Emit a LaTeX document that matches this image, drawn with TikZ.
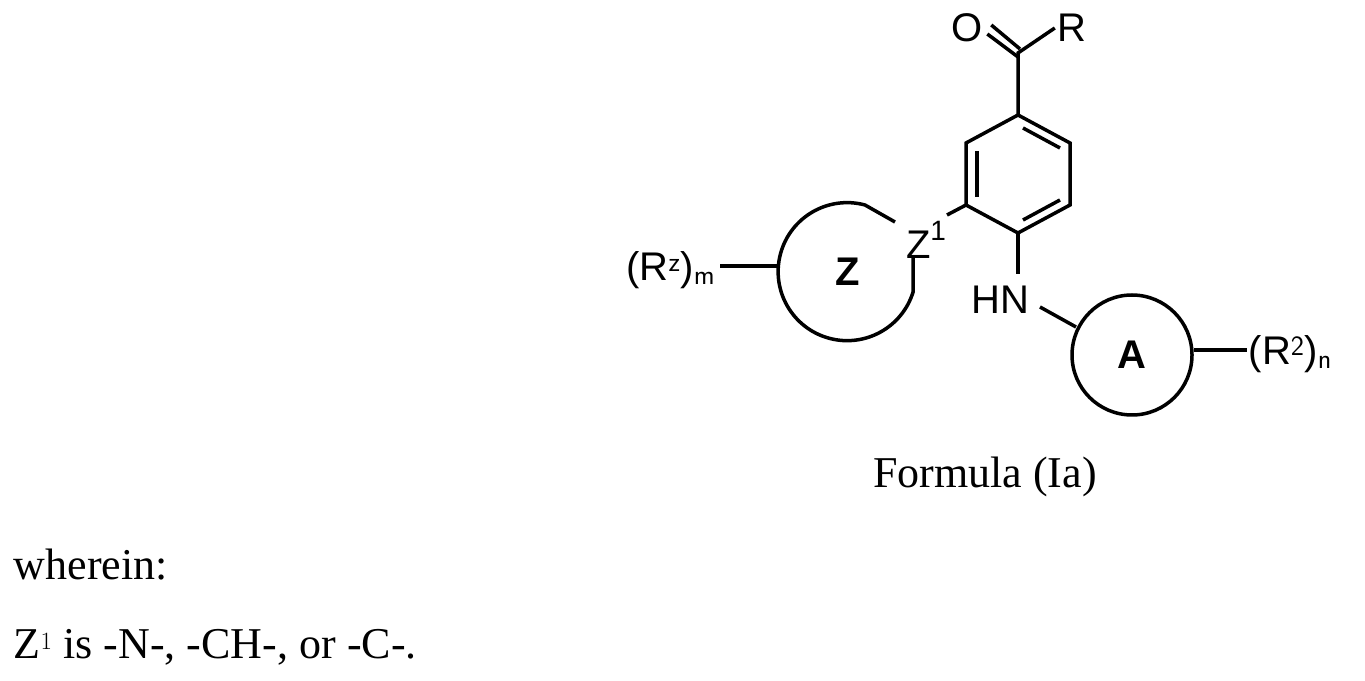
\documentclass[tikz,border=0pt]{standalone}
\usepackage{fontspec}
\setmainfont{Liberation Serif}
\newfontfamily\arial{Liberation Sans}
\begin{document}
\begin{tikzpicture}[x=1pt,y=1pt,line width=3.5pt,
  atom/.style={font=\arial\fontsize{40}{44}\selectfont,inner sep=1pt},
  txt/.style={font=\fontsize{44}{50}\selectfont,inner sep=0pt}]
\useasboundingbox (0,0) rectangle (1365,680);
\coordinate (C) at (1018,627);
\node[atom] (O) at (967,652) {O};
\node[atom] (R) at (1072,652) {R};
\coordinate (r1) at (1018,565);
\coordinate (r2) at (966,537);
\coordinate (r3) at (966,475);
\coordinate (r4) at (1018,447);
\coordinate (r5) at (1070,475);
\coordinate (r6) at (1070,537);
\draw (r1)--(r2)--(r3)--(r4)--(r5)--(r6)--cycle;
\draw (977,529)--(977,483);
\draw (1023,552)--(1060,532);
\draw (1023,460)--(1060,480);
\draw (r1)--(C)--(R.west);
\draw ([yshift=-4pt]C) -- ([xshift=2pt,yshift=-6pt]O.east);
\draw ([xshift=2pt,yshift=4pt]C) -- ([xshift=6pt,yshift=3pt]O.east);
\node[atom] (NH) at (1000,380) {HN};
\draw (r4)--(1018,406);
\draw (NH.east)++(0,-8) coordinate (nh1);
\node[circle,draw,minimum size=120pt,inner sep=0pt] (A) at (1132,325) {\arial\bfseries\fontsize{40}{44}\selectfont A};
\draw (1040,373)--(1076,353);
\draw (A.east)++(0,5) -- ++(53,0);
\node[atom,anchor=west] (R2) at (1246,326) {(R$^{\mathsf{2}}$)$_{\mathsf{n}}$};
\node[atom] (Z1) at (926,440) {Z\raisebox{0.45em}{\fontsize{28}{30}\selectfont 1}};
\draw (966,475)--(947,465);
\draw (895,458)--(865,475) arc[start angle=75,end angle=343,radius=69pt] coordinate (zend) -- (913,423);
\node[font=\arial\bfseries\fontsize{40}{44}\selectfont] (Z) at (848,408) {Z};
\draw (720,414)--(778,414);
\node[atom,anchor=east] (Rz) at (718,410) {(R$^{\mathsf{z}}$)$_{\mathsf{m}}$};
\node[txt] (F) at (985,203) {Formula (Ia)};
\node[txt,anchor=west] (W) at (12,115) {wherein:};
\node[txt,anchor=west] (L) at (12,33) {Z$^{1}$ is -N-, -CH-, or -C-.};
\end{tikzpicture}
\end{document}
